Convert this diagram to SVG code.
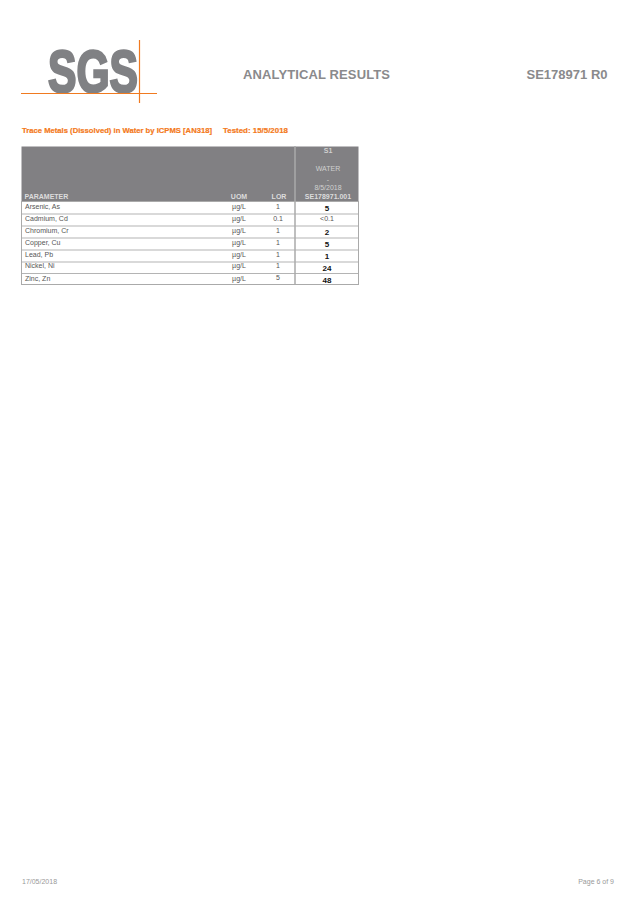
<svg xmlns="http://www.w3.org/2000/svg" width="637" height="900" viewBox="0 0 637 900">
<style>
text{font-family:"Liberation Sans",Arial,sans-serif}
.h{font-size:13px;font-weight:bold;fill:#8a8a8c}
.o{font-size:7.800px;font-weight:bold;fill:#f47920;stroke:#f47920;stroke-width:.2}
.w{font-size:7px;fill:#d0d0d0}
.wb{font-size:7px;font-weight:bold;fill:#dcdcdc}
.c{font-size:7px;fill:#555}
.b{font-size:8px;font-weight:bold;fill:#111;text-anchor:middle}
.m{text-anchor:middle}
.f{font-size:7px;fill:#999}
.r{stroke:#b4b4b4;stroke-width:1.200;fill:none}
</style>
<g id="logo">
<text x="48" y="91.500" font-size="60" font-weight="bold" fill="#808184" stroke="#808184" stroke-width="2.600" textLength="90" lengthAdjust="spacingAndGlyphs" style="font-family:'Liberation Sans Narrow','Liberation Sans',sans-serif">SGS</text>
<path d="M21 93.500H157M139.500 40V103" stroke="#f07a20" stroke-width="1.200" fill="none"/>
</g>
<g id="header">
<text class="h" x="243" y="78.500" textLength="147">ANALYTICAL RESULTS</text>
<text class="h" x="526.500" y="78.500" textLength="81">SE178971 R0</text>
</g>
<g id="title">
<text class="o" x="22" y="133" textLength="190" lengthAdjust="spacingAndGlyphs">Trace Metals (Dissolved) in Water by ICPMS [AN318]</text>
<text class="o" x="223" y="133" textLength="65" lengthAdjust="spacingAndGlyphs">Tested: 15/5/2018</text>
</g>
<g id="table">
<rect x="21.500" y="146.500" width="337" height="55" fill="#818083"/>
<path d="M295 146V285" stroke="#aaa" stroke-width="1.500" fill="none"/>
<rect x="21.500" y="201.500" width="337" height="83" fill="#fff" stroke="#aaa"/>
<path class="r" d="M22 214H358M22 226H358M22 238H358M22 250H358M22 262H358M22 273.500H358"/>
<path d="M295 201V285" stroke="#aaa" stroke-width="1.500" fill="none"/>
<text class="w" x="328" y="153" text-anchor="middle" font-weight="bold">S1</text>
<text class="w m" x="328" y="171">WATER</text>
<text class="w m" x="328" y="182">-</text>
<text class="w m" x="328" y="190">8/5/2018</text>
<text class="wb" x="24.500" y="199">PARAMETER</text>
<text class="wb m" x="239" y="199">UOM</text>
<text class="wb m" x="279" y="199">LOR</text>
<text class="wb m" x="328" y="199">SE178971.001</text>
<text class="c" x="25" y="209">Arsenic, As</text><text class="c m" x="239" y="209">µg/L</text><text class="c m" x="278" y="209">1</text><text class="b" x="327" y="210.500">5</text>
<text class="c" x="25" y="221">Cadmium, Cd</text><text class="c m" x="239" y="221">µg/L</text><text class="c m" x="278" y="221">0.1</text><text class="c m" x="327" y="221">&lt;0.1</text>
<text class="c" x="25" y="233">Chromium, Cr</text><text class="c m" x="239" y="233">µg/L</text><text class="c m" x="278" y="233">1</text><text class="b" x="327" y="234.500">2</text>
<text class="c" x="25" y="245">Copper, Cu</text><text class="c m" x="239" y="245">µg/L</text><text class="c m" x="278" y="245">1</text><text class="b" x="327" y="246.500">5</text>
<text class="c" x="25" y="257">Lead, Pb</text><text class="c m" x="239" y="257">µg/L</text><text class="c m" x="278" y="257">1</text><text class="b" x="327" y="258.500">1</text>
<text class="c" x="25" y="268">Nickel, Ni</text><text class="c m" x="239" y="268">µg/L</text><text class="c m" x="278" y="268">1</text><text class="b" x="327" y="270.500">24</text>
<text class="c" x="25" y="281">Zinc, Zn</text><text class="c m" x="239" y="281">µg/L</text><text class="c m" x="278" y="280">5</text><text class="b" x="327" y="282.500">48</text>
</g>
<g id="footer">
<text class="f" x="22" y="884">17/05/2018</text>
<text class="f" x="614" y="884" text-anchor="end">Page 6 of 9</text>
</g>
</svg>
